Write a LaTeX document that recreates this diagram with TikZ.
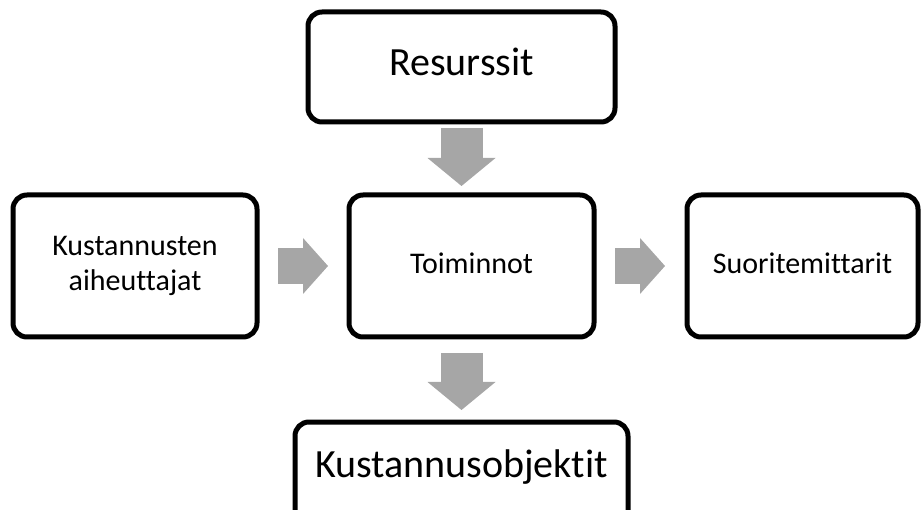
\documentclass[tikz,border=0pt]{standalone}
\usepackage{fontspec}
\setmainfont[Ligatures=NoCommon,RawFeature=-liga]{Carlito}
\usetikzlibrary{arrows.meta,calc}
\definecolor{arrowgray}{RGB}{166,166,166}
\tikzset{
  box/.style={draw=black, line width=5pt, rounded corners=14pt, inner sep=0pt, outer sep=0pt, align=center, text=black},
  bigtext/.style={font=\fontsize{40}{48}\selectfont},
  smalltext/.style={font=\fontsize{30}{35}\selectfont},
  vblock/.style={draw=arrowgray, line width=42pt, -{Triangle[width=68pt,length=28pt,line width=0pt]}},
  hblock/.style={draw=arrowgray, line width=36pt, -{Triangle[width=56pt,length=25pt,line width=0pt]}}
}
\begin{document}
\begin{tikzpicture}[x=1pt,y=-1pt]
\clip (0,0) rectangle (921,510);
\useasboundingbox (0,0) rectangle (921,510);
\node[box, bigtext, minimum width=307pt, minimum height=110pt, text height=27pt, text depth=9pt] (res) at (461.5,67) {Resurssit};
\node[box, smalltext, minimum width=244pt, minimum height=142pt] (kos) at (135,266) {Kustannusten\\aiheuttajat};
\node[box, smalltext, minimum width=245pt, minimum height=142pt, text height=21pt, text depth=5pt] (toi) at (471.5,266) {Toiminnot};
\node[box, smalltext, minimum width=231pt, minimum height=142pt, text height=21pt, text depth=5pt] (suo) at (802.5,266) {Suoritemittarit};
\node[box, bigtext, minimum width=333pt, minimum height=118pt, text height=27pt, text depth=35pt] (obj) at (461.5,481) {Kustannusobjektit};
\draw[vblock] ([yshift=-6pt]res.south) -- ([yshift=9pt]res.south |- toi.north);
\draw[hblock] ([xshift=21pt]kos.east) -- ([xshift=-21pt]toi.west);
\draw[hblock] ([xshift=21pt]toi.east) -- ([xshift=-22pt]suo.west);
\draw[vblock] ([yshift=-16pt]toi.south -| res.south) -- ([yshift=12pt]obj.north);
\end{tikzpicture}
\end{document}
